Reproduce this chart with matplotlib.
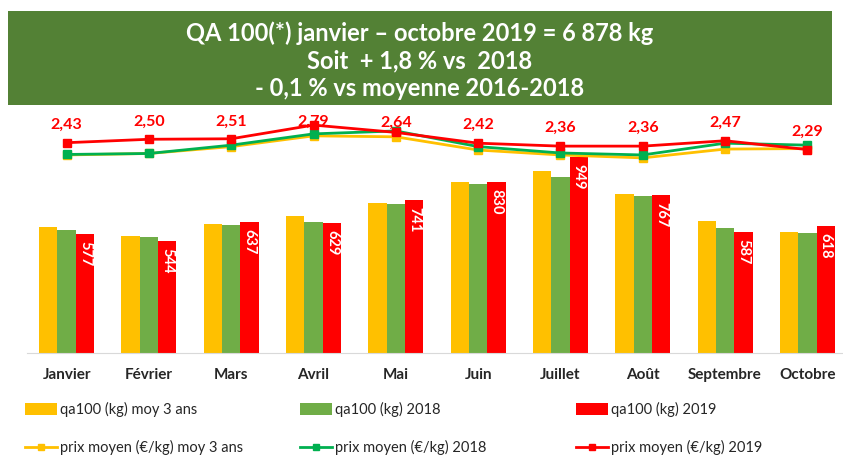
"""QA100 et prix moyen par mois, janvier - octobre 2019"""

import matplotlib
matplotlib.use('Agg')
import numpy
import matplotlib.pyplot as plt
from matplotlib.patches import Rectangle, Patch
from matplotlib.lines import Line2D

plt.rcParams['font.family'] = ['Lato', 'DejaVu Sans']

mois = ['Janvier', 'Février', 'Mars', 'Avril', 'Mai', 'Juin', 'Juillet', 'Août', 'Septembre', 'Octobre']
qa_moy3 = [610, 569, 624, 665, 728, 830, 882, 772, 639, 588]   # qa100 (kg) moy 3 ans
qa_2018 = [596, 561, 623, 634, 723, 819, 856, 762, 608, 582]   # qa100 (kg) 2018
qa_2019 = [577, 544, 637, 629, 741, 830, 949, 767, 587, 618]   # qa100 (kg) 2019
prix_moy3 = [2.18, 2.21, 2.35, 2.57, 2.55, 2.28, 2.18, 2.12, 2.30, 2.31]
prix_2018 = [2.19, 2.21, 2.38, 2.61, 2.67, 2.35, 2.22, 2.18, 2.42, 2.38]
prix_2019 = [2.43, 2.50, 2.51, 2.79, 2.64, 2.42, 2.36, 2.36, 2.47, 2.29]

W, H = 843, 457
c_jaune = '#FFC000'
c_vert_bar = '#70AD47'
c_rouge = '#FF0000'
c_vert_ligne = '#00B050'
lbl_dy = [18, 17, 17, 3, 10, 18, 18, 18, 18, 18]   # decalage des etiquettes prix (px)

fig = plt.figure(figsize=(W / 100.0, H / 100.0), dpi=100)

# bandeau titre
fig.patches.append(Rectangle((8 / W, 1 - 105 / H), 824 / W, 94 / H, transform=fig.transFigure,
                             facecolor='#538135', edgecolor='none'))
titre = ['QA 100(*) janvier \u2013 octobre 2019 = 6 878 kg', 'Soit  + 1,8 % vs  2018', '- 0,1 % vs moyenne 2016-2018']
for k, t in enumerate(titre):
    fig.text(420 / W, 1 - (33 + 27.5 * k) / H, t, color='white', fontsize=17, fontweight='bold',
             ha='center', va='center')

# axes des barres
x_left, x_right, y_top, y_bot = 25.5, 843.0, 110.0, 352.7
ax = fig.add_axes([x_left / W, 1 - y_bot / H, (x_right - x_left) / W, (y_bot - y_top) / H])
x = numpy.arange(len(mois))
bw = 0.223
ax.bar(x - bw, qa_moy3, bw, color=c_jaune)
ax.bar(x, qa_2018, bw, color=c_vert_bar)
ax.bar(x + bw, qa_2019, bw, color=c_rouge)
for i in range(len(mois)):
    ax.annotate(str(qa_2019[i]), (x[i] + bw, qa_2019[i]), xytext=(0, -7), textcoords='offset pixels',
                rotation=270, ha='center', va='top', color='white', fontsize=10.5, fontweight='bold')
ax.set_xlim(-0.5, -0.5 + (x_right - x_left) / 82.3)
ax.set_ylim(0, (y_bot - y_top) / 0.2057)
ax.set_xticks(x)
ax.set_xticklabels(mois, fontsize=11, fontweight='bold', color='#262626')
ax.tick_params(axis='x', length=0, pad=11)
ax.set_yticks([])
for s in ['top', 'right', 'left']:
    ax.spines[s].set_visible(False)
ax.spines['bottom'].set_color('#D9D9D9')
ax.spines['bottom'].set_bounds(-0.48, 9.7)

# axe des prix
ax2 = ax.twinx()
ax2.set_ylim(2.43 - (y_bot - 142.7) / 49.0, 2.43 + (142.7 - y_top) / 49.0)
ax2.plot(x, prix_moy3, color=c_jaune, lw=2, marker='s', ms=6)
ax2.plot(x, prix_2018, color=c_vert_ligne, lw=2, marker='s', ms=6)
ax2.plot(x, prix_2019, color=c_rouge, lw=2, marker='s', ms=6)
for i in range(len(mois)):
    ax2.annotate(('%.2f' % prix_2019[i]).replace('.', ','), (x[i], prix_2019[i]), xytext=(0, lbl_dy[i]),
                 textcoords='offset pixels', ha='center', va='center', color=c_rouge, fontsize=11.5,
                 fontweight='bold')
ax2.set_yticks([])
for s in ['top', 'right', 'left', 'bottom']:
    ax2.spines[s].set_visible(False)

# legende en trois colonnes
cols = [(25, c_jaune, c_jaune, 'moy 3 ans'), (300, c_vert_bar, c_vert_ligne, '2018'),
        (576, c_rouge, c_rouge, '2019')]
for xc, cb, cl, suffix in cols:
    h = [Patch(facecolor=cb, edgecolor='none'),
         Line2D([], [], color=cl, lw=2, marker='s', ms=4)]
    lab = ['qa100 (kg) ' + suffix, 'prix moyen (\u20ac/kg) ' + suffix]
    leg = fig.legend(h, lab, loc='upper left', bbox_to_anchor=((xc - 6) / W, 1 - 396 / H),
                     frameon=False, fontsize=10.5, handlelength=2.2, handleheight=0.9,
                     handletextpad=0.2, labelspacing=1.6, borderaxespad=0)
    for t in leg.get_texts():
        t.set_color('#262626')

fig.savefig('out.png', dpi=100)
